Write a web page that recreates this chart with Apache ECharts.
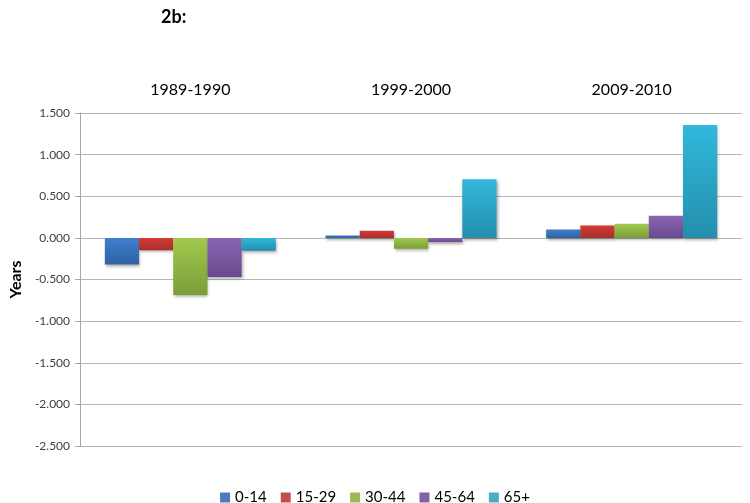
<!DOCTYPE html>
<html><head><meta charset="utf-8">
<script src="https://cdn.jsdelivr.net/npm/echarts@6/dist/echarts.min.js"></script>
<style>html,body{margin:0;padding:0;background:#fff}#c{width:750px;height:503px}</style>
</head><body><div id="c"></div>
<script>
const categories = ['1989-1990', '1999-2000', '2009-2010'];
const seriesNames = ['0-14', '15-29', '30-44', '45-64', '65+'];
const v0_14 = [-0.32, 0.03, 0.10];
const v15_29 = [-0.15, 0.085, 0.15];
const v30_44 = [-0.685, -0.13, 0.17];
const v45_64 = [-0.47, -0.05, 0.265];
const v65p = [-0.155, 0.705, 1.355];
const seriesValues = [v0_14, v15_29, v30_44, v45_64, v65p];
const yTicks = { min: -2.5, max: 1.5, interval: 0.5 };

const palette = [
  ['#3f7fcc', '#2d62a3', '#4a7ebb'],
  ['#d43a37', '#a92e2b', '#c0504d'],
  ['#a2c94e', '#7c9d38', '#9bbb59'],
  ['#8a65b2', '#6a4a8f', '#8064a2'],
  ['#31b8dc', '#238fac', '#4bacc6']
];
const font = 'Lato, "Open Sans", sans-serif';
const chart = echarts.init(document.getElementById('c'));
chart.setOption({
  animation: false,
  title: { text: '2b:', left: 156, top: 3, textStyle: { fontFamily: font, fontWeight: 'bold', fontSize: 18, color: '#000' } },
  grid: { left: 70, right: 8, top: 113, bottom: 57 },
  legend: {
    top: 485, left: 'center', itemWidth: 10, itemHeight: 10, itemGap: 14,
    icon: 'rect',
    textStyle: { fontFamily: font, fontSize: 15, color: '#000' },
    data: seriesNames.map((n, i) => ({ name: n, itemStyle: { color: palette[i][2] } }))
  },
  xAxis: {
    type: 'category', data: categories, position: 'top',
    axisLine: { show: false }, axisTick: { show: false },
    axisLabel: { margin: 15, fontFamily: font, fontSize: 16, color: '#000' }
  },
  yAxis: {
    type: 'value', min: yTicks.min, max: yTicks.max, interval: yTicks.interval,
    name: 'Years', nameLocation: 'middle', nameGap: 48, nameRotate: 90,
    nameTextStyle: { fontFamily: font, fontWeight: 'bold', fontSize: 16, color: '#000' },
    axisLine: { show: true, lineStyle: { color: '#a6a6a6' } },
    axisTick: { show: true, length: 5, lineStyle: { color: '#a6a6a6' } },
    axisLabel: { formatter: v => v.toFixed(3), fontFamily: font, fontSize: 12, color: '#404040', margin: 10 },
    splitLine: { lineStyle: { color: '#b5b5b5', width: 1 } }
  },
  series: seriesNames.map((n, i) => ({
    name: n, type: 'bar', data: seriesValues[i],
    barGap: '0%', barCategoryGap: '22.5%',
    itemStyle: {
      color: new echarts.graphic.LinearGradient(0, 0, 0, 1, [
        { offset: 0, color: palette[i][0] }, { offset: 1, color: palette[i][1] }
      ]),
      shadowColor: 'rgba(0,0,0,0.35)', shadowBlur: 3, shadowOffsetY: 2, shadowOffsetX: 1
    }
  }))
});
</script></body></html>
